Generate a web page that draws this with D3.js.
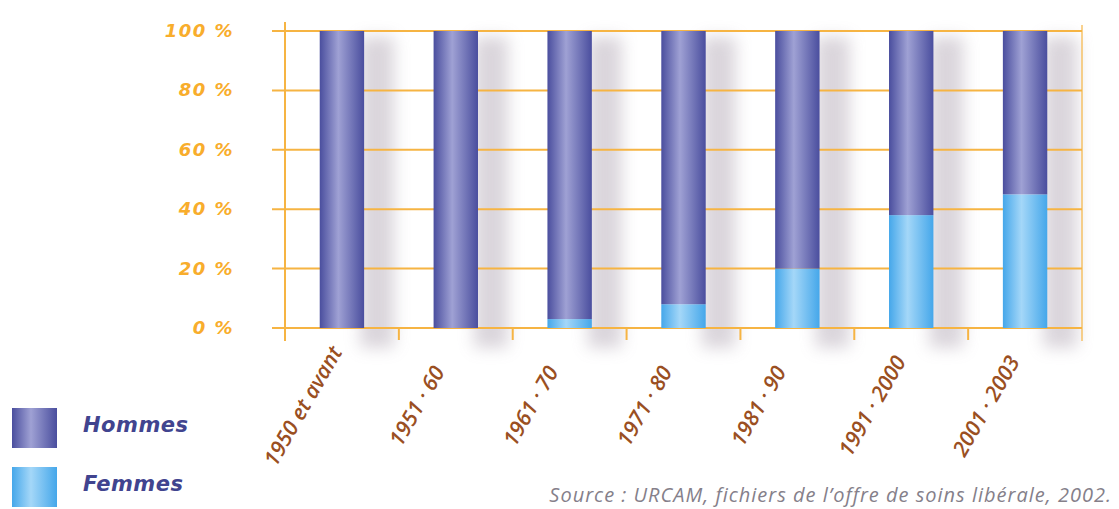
<!DOCTYPE html>
<html>
<head>
<meta charset="utf-8">
<script src="https://cdn.jsdelivr.net/npm/d3@7"></script>
<style>
  html, body { margin: 0; padding: 0; background: #fff; }
  svg { display: block; }
</style>
</head>
<body>
<svg id="chart" width="1119" height="509"></svg>
<script>
// Period of installation
const categories = ["1950 et avant", "1951 \u00b7 60", "1961 \u00b7 70", "1971 \u00b7 80", "1981 \u00b7 90", "1991 \u00b7 2000", "2001 \u00b7 2003"];
// Share of women (%) per period; men make up the rest
const femmes = [0, 0, 3, 8, 20, 38, 45];
const hommes = femmes.map(f => 100 - f);
const yTicks = [0, 20, 40, 60, 80, 100];
const seriesNames = ["Hommes", "Femmes"];
const sourceText = "Source : URCAM, fichiers de l\u2019offre de soins lib\u00e9rale, 2002.";

const svg = d3.select("#chart");
const plotLeft = 285, plotRight = 1082, plotTop = 31, plotBottom = 328;

const x = d3.scaleBand().domain(categories).range([plotLeft, plotRight]).paddingInner(0.61).paddingOuter(0.305);
const y = d3.scaleLinear().domain([0, 100]).range([plotBottom, plotTop]);

const defs = svg.append("defs");
function cylinder(id, edge, mid) {
  const g = defs.append("linearGradient").attr("id", id).attr("x1", 0).attr("x2", 1).attr("y1", 0).attr("y2", 0);
  g.append("stop").attr("offset", "0%").attr("stop-color", edge);
  g.append("stop").attr("offset", "42%").attr("stop-color", mid);
  g.append("stop").attr("offset", "100%").attr("stop-color", edge);
}
cylinder("gHommes", "#4a4e9e", "#9fa1d4");
cylinder("gFemmes", "#45a7ea", "#a4d7f8");
defs.append("filter").attr("id", "soft").attr("x", "-60%").attr("y", "-20%").attr("width", "220%").attr("height", "140%")
  .append("feGaussianBlur").attr("stdDeviation", 8);

const orange = "#f6b443";

// soft shadows to the right of the bars
svg.append("g").selectAll("rect").data(categories).join("rect")
  .attr("x", d => x(d) + x.bandwidth() - 4).attr("y", y(100) + 6)
  .attr("width", 34).attr("height", y(0) - y(100) + 14)
  .attr("fill", "#a89cab").attr("opacity", 0.42).attr("filter", "url(#soft)");

// grid lines
svg.append("g").selectAll("line").data(yTicks).join("line")
  .attr("x1", plotLeft - 13).attr("x2", plotRight)
  .attr("y1", d => y(d)).attr("y2", d => y(d))
  .attr("stroke", orange).attr("stroke-width", 2);

// axes frame
svg.append("line").attr("x1", plotLeft).attr("x2", plotLeft).attr("y1", plotTop - 9).attr("y2", plotBottom + 13)
  .attr("stroke", orange).attr("stroke-width", 2);
svg.append("line").attr("x1", plotRight).attr("x2", plotRight).attr("y1", plotTop - 6).attr("y2", plotBottom + 13)
  .attr("stroke", orange).attr("stroke-width", 1.5).attr("opacity", 0.8);
svg.append("g").selectAll("line").data(categories.slice(1)).join("line")
  .attr("x1", d => x(d) - x.step() * x.paddingInner() / 2).attr("x2", d => x(d) - x.step() * x.paddingInner() / 2)
  .attr("y1", plotBottom).attr("y2", plotBottom + 12)
  .attr("stroke", orange).attr("stroke-width", 2);

// stacked bars
const rows = categories.map((c, i) => ({ c, h: hommes[i], f: femmes[i] }));
const bars = svg.append("g");
bars.selectAll("rect.f").data(rows).join("rect").attr("class", "f")
  .attr("x", d => x(d.c)).attr("width", x.bandwidth())
  .attr("y", d => y(d.f)).attr("height", d => y(0) - y(d.f))
  .attr("fill", "url(#gFemmes)");
bars.selectAll("rect.h").data(rows).join("rect").attr("class", "h")
  .attr("x", d => x(d.c)).attr("width", x.bandwidth())
  .attr("y", d => y(d.f + d.h)).attr("height", d => y(d.f) - y(d.f + d.h))
  .attr("fill", "url(#gHommes)");

// y labels
svg.append("g").selectAll("text").data(yTicks).join("text")
  .attr("x", 234).attr("y", d => y(d) + 6)
  .attr("text-anchor", "end")
  .attr("font-family", "DejaVu Sans").attr("font-style", "italic").attr("font-weight", "bold")
  .attr("font-size", 18).attr("letter-spacing", 1.5)
  .attr("fill", "#f8ad2c")
  .text(d => d + " %");

// x labels
svg.append("g").selectAll("text").data(categories).join("text")
  .attr("transform", d => `translate(${x(d) + x.bandwidth() / 2 - 39},406) rotate(-60)`)
  .attr("text-anchor", "middle").attr("dy", "0.35em")
  .attr("font-family", "Open Sans").attr("font-style", "italic").attr("font-weight", 600)
  .attr("font-size", 21.5).attr("letter-spacing", 0)
  .attr("fill", "#9a4f22")
  .text(d => d);

// legend
const legend = svg.append("g");
const lg = [{ n: seriesNames[0], fill: "url(#gHommes)", y: 408 }, { n: seriesNames[1], fill: "url(#gFemmes)", y: 467 }];
legend.selectAll("rect").data(lg).join("rect")
  .attr("x", 12).attr("y", d => d.y).attr("width", 45).attr("height", 40).attr("fill", d => d.fill);
legend.selectAll("text").data(lg).join("text")
  .attr("x", 83).attr("y", d => d.y + 24)
  .attr("font-family", "DejaVu Sans").attr("font-style", "italic").attr("font-weight", "bold")
  .attr("font-size", 21).attr("letter-spacing", 0.5).attr("fill", "#41448f")
  .text(d => d.n);

// source
svg.append("text").attr("x", 1112).attr("y", 502).attr("text-anchor", "end")
  .attr("font-family", "Open Sans").attr("font-style", "italic").attr("font-size", 20)
  .attr("letter-spacing", 1.0)
  .attr("fill", "#85808a").text(sourceText);
</script>
</body>
</html>
